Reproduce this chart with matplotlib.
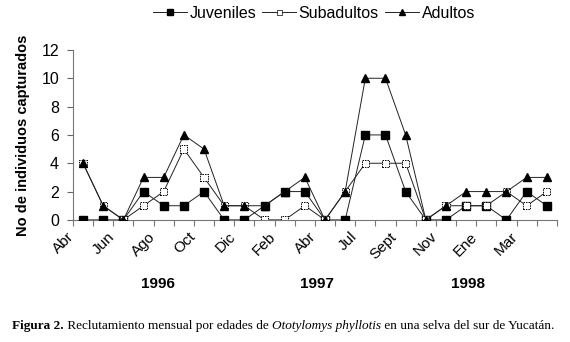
import matplotlib
matplotlib.use("Agg")
import matplotlib.pyplot as plt
import matplotlib.transforms as mtransforms
from matplotlib.lines import Line2D

plt.rcParams["font.family"] = ["Liberation Sans", "DejaVu Sans"]

# monthly captures, Abr 1996 - Abr 1998
juveniles = [0, 0, 0, 2, 1, 1, 2, 0, 0, 1, 2, 2, 0, 0, 6, 6, 2, 0, 0, 1, 1, 0, 2, 1]
subadultos = [4, 1, 0, 1, 2, 5, 3, 1, 1, 0, 0, 1, 0, 2, 4, 4, 4, 0, 1, 1, 1, 2, 1, 2]
adultos = [4, 1, 0, 3, 3, 6, 5, 1, 1, 1, 2, 3, 0, 2, 10, 10, 6, 0, 1, 2, 2, 2, 3, 3]
month_labels = ["Abr", "Jun", "Ago", "Oct", "Dic", "Feb", "Abr", "Jul",
                "Sept", "Nov", "Ene", "Mar"]
years = ["1996", "1997", "1998"]
year_pos = [3.7, 11.6, 19.1]
series_names = ["Juveniles", "Subadultos", "Adultos"]

x = list(range(len(juveniles)))

fig = plt.figure(figsize=(5.7, 3.42), dpi=100)
ax = fig.add_axes([0.128, 0.357, 0.849, 0.497])

lc = "#222222"
ax.plot(x, juveniles, color=lc, lw=0.7, marker="s", ms=5.6,
        mfc="black", mec="black", zorder=3)
ax.plot(x, subadultos, color=lc, lw=0.7, zorder=4)
ax.scatter(x, subadultos, marker="s", s=27, facecolors="white",
           edgecolors="black", linewidths=0.7, linestyle=(0, (1.5, 1)),
           zorder=5)
ax.plot(x, adultos, color=lc, lw=0.7, marker="^", ms=6,
        mfc="black", mec="black", zorder=6)

ax.set_xlim(-0.5, len(x) - 0.5)
ax.set_ylim(0, 12)
ax.set_yticks(range(0, 13, 2))
ax.tick_params(axis="y", labelsize=11.5, length=4, width=0.8,
               color="#666666", pad=6)
for s in ["top", "right"]:
    ax.spines[s].set_visible(False)
for s in ["left", "bottom"]:
    ax.spines[s].set_color("#777777")
    ax.spines[s].set_linewidth(0.8)

ax.set_xticks(range(0, len(x), 2))
ax.set_xticklabels(month_labels, rotation=45, ha="right", fontsize=11)
ax.set_xticks([i - 0.5 for i in range(len(x) + 1)], minor=True)
ax.tick_params(axis="x", which="major", length=0, pad=7)
ax.tick_params(axis="x", which="minor", length=4, width=0.8, color="#777777")
offset = mtransforms.ScaledTranslation(-6 / 100, 0, fig.dpi_scale_trans)
for lbl in ax.get_xticklabels():
    lbl.set_transform(lbl.get_transform() + offset)

ax.set_ylabel("No de individuos capturados", fontsize=10.5,
              fontweight="bold", labelpad=8)

for yr, xp in zip(years, year_pos):
    ax.text(xp, -0.38, yr, transform=ax.get_xaxis_transform(),
            ha="center", va="center", fontsize=11, fontweight="bold")

# legend entries placed one by one
handles = [
    Line2D([], [], color=lc, lw=0.7, marker="s", ms=4, mfc="black", mec="black"),
    Line2D([], [], color=lc, lw=0.7, marker="s", ms=3.6, mfc="white", mec="black", mew=0.5),
    Line2D([], [], color=lc, lw=0.7, marker="^", ms=4.5, mfc="black", mec="black"),
]
leg_x = [153, 262, 385]
for h, name, lx in zip(handles, series_names, leg_x):
    lg = fig.legend([h], [name], loc="center left",
                    bbox_to_anchor=(lx / 570, 1 - 13 / 342), frameon=False,
                    fontsize=11.5, handlelength=2.1, handletextpad=0.2,
                    borderpad=0, borderaxespad=0)

# caption with mixed styles
serif = "Liberation Serif"
parts = [("Figura 2.", "bold", "normal"),
         (" Reclutamiento mensual por edades de ", "normal", "normal"),
         ("Ototylomys phyllotis", "normal", "italic"),
         (" en una selva del sur de Yucatán.", "normal", "normal")]
renderer = fig.canvas.get_renderer()
xpos = 12
for txt, wt, st in parts:
    t = fig.text(xpos / 570, 1 - 326 / 342, txt, family=serif, fontsize=9.5,
                 fontweight=wt, fontstyle=st, va="center", ha="left")
    bb = t.get_window_extent(renderer=renderer)
    xpos += bb.width

fig.savefig("out.png", dpi=100)
